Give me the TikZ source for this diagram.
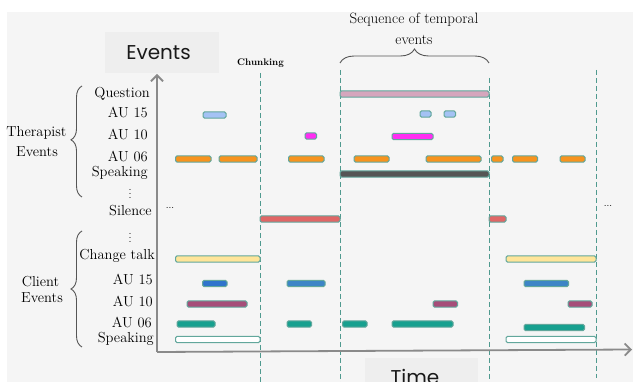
\documentclass[tikz,border=0pt]{standalone}
\usepackage{fontspec}
\newfontfamily\evfont{Poppins}
\usetikzlibrary{arrows.meta,decorations.pathreplacing}
\definecolor{bgcol}{HTML}{F5F5F5}
\definecolor{boxcol}{HTML}{EEEEEE}
\definecolor{bordcol}{HTML}{62A79C}
\definecolor{dashcol}{HTML}{4F9A8F}
\definecolor{axiscol}{HTML}{8A8A8A}
\definecolor{bracecol}{HTML}{555555}
\definecolor{qpink}{HTML}{D5A6BD}
\definecolor{lblue}{HTML}{A4C2F4}
\definecolor{magen}{HTML}{FF2EF2}
\definecolor{orng}{HTML}{F7931E}
\definecolor{dgray}{HTML}{555555}
\definecolor{sred}{HTML}{E06666}
\definecolor{yell}{HTML}{FFE599}
\definecolor{blue1}{HTML}{2F74CC}
\definecolor{blue2}{HTML}{3D85C6}
\definecolor{plum}{HTML}{A64D79}
\definecolor{tealc}{HTML}{17A08F}
\newcommand\evbar[4]{\draw[barsty,fill=#4] (#1,#3-3.2) rectangle (#2,#3+3.2);}
\begin{document}
\begin{tikzpicture}[x=1pt,y=-1pt,
  lab/.style={font=\fontsize{14.5}{16}\selectfont, inner sep=0pt, text=black},
  barsty/.style={draw=bordcol, line width=1pt, rounded corners=1.5pt},
  chunkline/.style={draw=dashcol, line width=0.95pt, dash pattern=on 5pt off 3pt},
  axis/.style={draw=axiscol, line width=1.8pt},
  bigtxt/.style={font=\evfont\fontsize{20}{22}\selectfont, inner sep=0pt, text=black!90},
  brc/.style={draw=bracecol, line width=0.9pt, decorate},
  vdsty/.style={font=\fontsize{11}{11}\selectfont, inner sep=0pt, text height=8pt, text depth=0pt}
]
\useasboundingbox (0,0) rectangle (633,382);
\clip (0,0) rectangle (633,382);
\fill[white] (0,0) rectangle (633,382);
\fill[bgcol] (7,12) rectangle (633,382);

% header boxes
\fill[boxcol] (105,32) rectangle (219,73);
\node[bigtxt, anchor=base] (evlabel) at (158.5,60) {Events};
\fill[boxcol] (365,358) rectangle (478,392);
\node[bigtxt, anchor=base] (timelabel) at (415,385) {Time};

% chunk lines
\coordinate (c1t) at (260,73);  \coordinate (c1b) at (260,382);
\coordinate (c2t) at (340,70);  \coordinate (c2b) at (340,382);
\coordinate (c3t) at (489,78);  \coordinate (c3b) at (489,382);
\coordinate (c4t) at (596,70);  \coordinate (c4b) at (596,378);
\draw[chunkline] (c1t) -- (c1b);
\draw[chunkline] (c2t) -- (c2b);
\draw[chunkline] (c3t) -- (c3b);
\draw[chunkline] (c4t) -- (c4b);

\node[font=\bfseries\fontsize{9.6}{11}\selectfont, inner sep=0pt, anchor=base] (chunk) at (260.5,66) {Chunking};

% sequence brace
\coordinate (sbl) at (340,63); \coordinate (sbr) at (489,63);
\draw[brc, decoration={brace, amplitude=14pt, aspect=0.5}] (sbl) -- (sbr);
\node[lab, font=\fontsize{15}{21}\selectfont, anchor=base] (seq1) at (414,24) {Sequence of temporal};
\node[lab, font=\fontsize{15}{21}\selectfont, anchor=base] (seq2) at (414,45) {events};

% axes
\coordinate (o) at (157,352);
\coordinate (ytop) at (157,74);
\coordinate (xend) at (632,349.5);
\draw[axis, -{Straight Barb[length=6pt,width=12pt]}] (o) -- (ytop);
\draw[axis, -{Straight Barb[length=6pt,width=12pt]}] (o) -- (xend);

% row labels
\node[lab, anchor=base east] (lq)   at (150,98)  {Question};
\node[lab, anchor=base east] (lt15) at (148,118) {AU 15};
\node[lab, anchor=base east] (lt10) at (148,140) {AU 10};
\node[lab, anchor=base east] (lt06) at (148,162) {AU 06};
\node[lab, anchor=base east] (lts)  at (148,177) {Speaking};
\node[vdsty, anchor=base] (vd1) at (130,199) {$\vdots$};
\node[lab, anchor=base east] (lsil) at (152,216) {Silence};
\node[vdsty, anchor=base] (vd2) at (130,243) {$\vdots$};
\node[lab, anchor=base east] (lct)  at (155,260) {Change talk};
\node[lab, anchor=base east] (lc15) at (153,285) {AU 15};
\node[lab, anchor=base east] (lc10) at (153,307) {AU 10};
\node[lab, anchor=base east] (lc06) at (152,328) {AU 06};
\node[lab, anchor=base east] (lcs)  at (154,343) {Speaking};

\node[font=\fontsize{10}{10}\selectfont, inner sep=0pt] (dl) at (170,208) {...};
\node[font=\fontsize{10}{10}\selectfont, inner sep=0pt] (dr) at (608,206) {...};

% group braces
\coordinate (tbb) at (82,197); \coordinate (tbt) at (82,86);
\draw[brc, decoration={brace, amplitude=11pt, aspect=0.515}] (tbb) -- (tbt);
\node[lab, anchor=base] (th1) at (36.5,137) {Therapist};
\node[lab, anchor=base] (th2) at (37,157) {Events};
\coordinate (cbb) at (82,347); \coordinate (cbt) at (82,231);
\draw[brc, decoration={brace, amplitude=11pt, aspect=0.5}] (cbb) -- (cbt);
\node[lab, anchor=base] (cl1) at (40.5,287) {Client};
\node[lab, anchor=base] (cl2) at (42,303) {Events};

% therapist bars
\evbar{340}{489}{94}{qpink}
\evbar{203}{226}{115}{lblue}
\evbar{420}{431}{114}{lblue}
\evbar{444}{455.5}{114}{lblue}
\evbar{305}{316.5}{136}{magen}
\evbar{392}{433}{136.5}{magen}
\evbar{175.5}{211}{159}{orng}
\evbar{219}{257}{159}{orng}
\evbar{288.5}{324}{159}{orng}
\evbar{354}{389}{159}{orng}
\evbar{426}{481}{159}{orng}
\evbar{491.5}{503}{159}{orng}
\evbar{512.5}{537.5}{159}{orng}
\evbar{560}{585}{159}{orng}
\evbar{340}{489}{174}{dgray}
\evbar{260}{340}{219}{sred}
\evbar{489}{506}{219}{sred}

% client bars
\evbar{175.5}{260}{259}{yell}
\evbar{506}{596}{259}{yell}
\evbar{202.5}{227}{283.5}{blue1}
\evbar{287}{325}{283.5}{blue2}
\evbar{524}{568.5}{283.5}{blue2}
\evbar{187}{247}{304}{plum}
\evbar{433}{457.5}{304}{plum}
\evbar{568}{592}{304}{plum}
\evbar{177}{215}{324}{tealc}
\evbar{287}{311.5}{324}{tealc}
\evbar{342.5}{367}{324}{tealc}
\evbar{392}{453}{324}{tealc}
\evbar{524}{584.5}{327.5}{tealc}
\evbar{175.5}{260}{339.5}{white}
\evbar{506}{596}{339.5}{white}
\end{tikzpicture}
\end{document}
